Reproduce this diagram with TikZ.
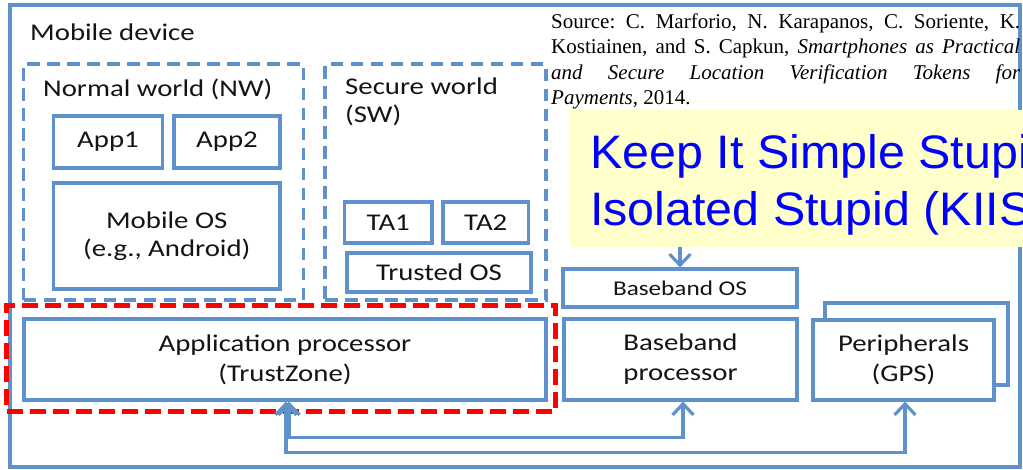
\documentclass[tikz,border=0pt]{standalone}
\usepackage{fontspec}
\setmainfont{Carlito}[FakeStretch=1.2]
\newfontfamily\srcfont{Liberation Serif}
\newfontfamily\arialfont{Liberation Sans}[FakeStretch=1.03]
\usetikzlibrary{arrows.meta,calc}
\definecolor{boxblue}{RGB}{95,145,205}
\definecolor{kyellow}{RGB}{255,255,204}
\definecolor{kblue}{RGB}{0,0,255}
\definecolor{kred}{RGB}{255,0,0}
\tikzset{
  box/.style={draw=boxblue, line width=3.2pt, fill=white, inner sep=0pt, align=center,
    text=black!92, font=\fontsize{24}{29}\selectfont},
  dbox/.style={draw=boxblue, line width=3.2pt, dash pattern=on 12.5pt off 7.5pt, inner sep=0pt},
  rbox/.style={draw=kred, line width=5pt, dash pattern=on 16pt off 7pt, inner sep=0pt},
  lbl/.style={inner sep=0pt, text=black!92, font=\fontsize{24}{28}\selectfont, align=left},
  chev/.style={draw=boxblue, line width=3.2pt, {Straight Barb[length=11pt,width=21pt]}-{Straight Barb[length=11pt,width=21pt]}},
  chevend/.style={draw=boxblue, line width=3.2pt, -{Straight Barb[length=11pt,width=21pt]}},
}
\begin{document}
\begin{tikzpicture}[x=1pt,y=-1pt]
\useasboundingbox (0,0) rectangle (1023,469);
% outer box
\node[draw=boxblue, line width=3.2pt, minimum width=1010pt, minimum height=462pt, inner sep=0pt] (mob) at (515,236) {};
\node[lbl, anchor=west] (mobl) at (30,32) {Mobile device};
% worlds
\node[dbox, minimum width=280pt, minimum height=236pt] (nw) at (163.5,182) {};
\node[lbl, anchor=west] (nwl) at (43,89) {Normal world (NW)};
\node[dbox, minimum width=221pt, minimum height=236pt] (sw) at (435.5,182) {};
\node[lbl, anchor=north west] (swl) at (345,78) {Secure world\\(SW)};
% NW content
\node[box, minimum width=109pt, minimum height=52pt] (app1) at (108,142) {App1};
\node[box, minimum width=106pt, minimum height=52pt] (app2) at (227,142) {App2};
\node[box, minimum width=226.5pt, minimum height=106pt, font=\fontsize{24}{28}\selectfont] (mos) at (166.75,236) {\raisebox{-3pt}{Mobile OS}\\\raisebox{-3pt}{(e.g., Android)}};
% SW content
\node[box, minimum width=87.5pt, minimum height=41pt] (ta1) at (388.25,222.5) {TA1};
\node[box, minimum width=85.5pt, minimum height=41pt] (ta2) at (485.75,222.5) {TA2};
\node[box, minimum width=184pt, minimum height=39pt] (tos) at (439,272.5) {Trusted OS};
% application processor
\node[box, minimum width=522pt, minimum height=81pt, font=\fontsize{24}{30}\selectfont] (ap) at (285,359.5) {Application processor\\(TrustZone)};
\node[rbox, minimum width=549pt, minimum height=106pt] (red) at (281,358) {};
% baseband
\node[box, minimum width=234pt, minimum height=38pt, font=\fontsize{21}{25}\selectfont] (bos) at (680,288) {Baseband OS};
\node[box, minimum width=233pt, minimum height=81pt, font=\fontsize{24}{30}\selectfont] (bbp) at (680.5,359.5) {Baseband\\processor};
% peripherals
\node[box, minimum width=183pt, minimum height=82pt] (perb) at (916.5,344) {};
\node[box, minimum width=181pt, minimum height=80pt, font=\fontsize{24}{30}\selectfont] (per) at (903.5,360) {Peripherals\\(GPS)};
% yellow callout
\node[fill=kyellow, minimum width=460pt, minimum height=137pt, inner sep=0pt] (kiis) at (800,178.5) {};
\node[inner sep=0pt, anchor=base west, text=kblue, font=\arialfont\fontsize{47}{56}\selectfont] (k1) at (590,168) {Keep It Simple Stupi};
\node[inner sep=0pt, anchor=base west, text=kblue, font=\arialfont\fontsize{47}{56}\selectfont] (k2) at (590,225) {Isolated Stupid (KIIS};
\draw[chevend] (kiis.south -| bos.north) -- (bos.north);
% source
\node[anchor=north west, inner sep=0pt, text width=469pt, align=justify, font=\srcfont\fontsize{21}{25.5}\selectfont\frenchspacing] (src) at (551,13.5)
{Source: C. Marforio, N. Karapanos, C. Soriente, K.\linebreak Kostiainen, and S. Capkun, \textit{Smartphones as Practical\linebreak and Secure Location Verification Tokens for\linebreak Payments}, 2014.};
% connectors
\draw[chev] ($(ap.south)+(4,0)$) -- ++(0,36) -| ($(bbp.south)+(2.5,0)$);
\draw[chev] ($(ap.south)+(1,0)$) -- ++(0,51) -| ($(per.south)+(1.5,0)$);
\end{tikzpicture}
\end{document}
